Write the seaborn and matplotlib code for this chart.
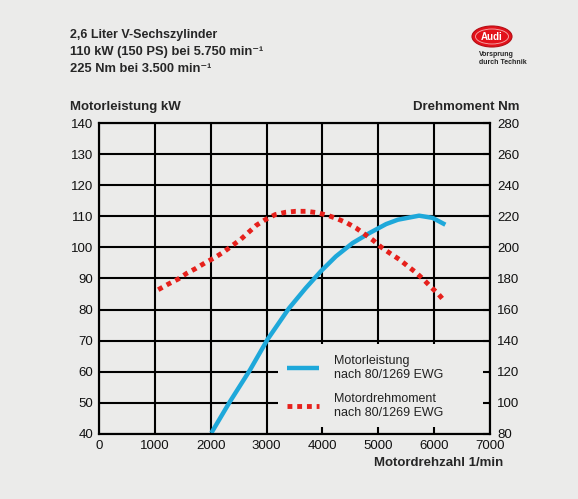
import seaborn as sns
import pandas as pd
import matplotlib.pyplot as plt
from matplotlib.patches import Ellipse, Rectangle

rpm_power = [2010, 2340, 2700, 3020, 3400, 3700, 3970, 4240, 4540, 4840, 5140, 5350,
             5730, 5970, 6200]
power_kw = [40.3, 50.3, 60.5, 70.5, 80.4, 86.9, 92.3, 97.1, 101.4, 104.6, 107.5, 108.9,
            110.2, 109.5, 107.3]

rpm_torque = [1060, 1240, 1415, 1565, 1730, 1905, 2070, 2230, 2390, 2535, 2665, 2815,
              2980, 3155, 3340, 3520, 3710, 3895, 4095, 4260, 4440, 4600, 4910, 5050,
              5210, 5375, 5525, 5675, 5820, 5940, 6075, 6195]
torque_nm = [172.8, 176.4, 179.6, 183.2, 186.4, 190.2, 193.4, 197, 201.3, 205.1, 209.3, 214.2,
             217.9, 221.1, 222.6, 223.2, 223.2, 222.4, 220.6, 218.5, 215.7, 212.5, 204.5, 200.2,
             196.2, 192.3, 188, 183.8, 179, 174.6, 170, 165]

x_ticks = [0, 1000, 2000, 3000, 4000, 5000, 6000, 7000]
kw_ticks = [40, 50, 60, 70, 80, 90, 100, 110, 120, 130, 140]
nm_ticks = [80, 100, 120, 140, 160, 180, 200, 220, 240, 260, 280]

power = pd.DataFrame({'rpm': rpm_power, 'kW': power_kw})
torque = pd.DataFrame({'rpm': rpm_torque, 'Nm': torque_nm})

bg = '#ebebea'
blue = '#1ea8da'
red = '#e6201c'

sns.set_theme(style='white')
plt.rcParams['font.family'] = ['Liberation Sans', 'DejaVu Sans']

fig = plt.figure(figsize=(5.78, 4.99), dpi=100, facecolor=bg)
ax = fig.add_axes([0.1713, 0.1303, 0.6765, 0.6232])
ax.set_facecolor(bg)
ax.set_axisbelow('line')

sns.lineplot(data=power, x='rpm', y='kW', ax=ax, color=blue, lw=3.2,
             label='Motorleistung\nnach 80/1269 EWG', legend=False, zorder=3,
             solid_capstyle='butt')
ax.set_xlim(0, 7000)
ax.set_ylim(40, 140)
ax.set_xticks(x_ticks)
ax.set_yticks(kw_ticks)
ax.grid(True, color='black', lw=1.5)
ax.tick_params(direction='in', length=0, labelsize=9.5, colors='#111111', pad=4)
ax.set_xlabel('')
ax.set_ylabel('')

ax2 = ax.twinx()
# patch behind the legend hides the grid lines there
ax2.add_patch(Rectangle((0.457, 0.022), 0.539, 0.266, transform=ax2.transAxes,
                        facecolor=bg, edgecolor='none', zorder=0.5))
sns.lineplot(data=torque, x='rpm', y='Nm', ax=ax2, color=red, lw=3.5,
             linestyle=(0, (1, 1)), label='Motordrehmoment\nnach 80/1269 EWG',
             legend=False, zorder=3)
ax2.set_ylim(80, 280)
ax2.set_yticks(nm_ticks)
ax2.set_ylabel('')
ax2.tick_params(direction='in', length=5, width=1.5, labelsize=9.5, colors='black',
                labelcolor='#111111', pad=5)

for a in (ax, ax2):
    for s in a.spines.values():
        s.set_color('black')
        s.set_linewidth(1.5)

h1, l1 = ax.get_legend_handles_labels()
h2, l2 = ax2.get_legend_handles_labels()
ax2.legend(h1 + h2, l1 + l2, loc='lower left', bbox_to_anchor=(0.451, 0.012),
           frameon=False, handlelength=2.6, handletextpad=1.2, labelspacing=1.0,
           fontsize=9, labelcolor='#222222')

# titles and axis labels
sup = '\u207b\u00b9'
fig.text(0.121, 0.930, '2,6 Liter V-Sechszylinder', fontsize=9, fontweight='bold', va='center')
fig.text(0.121, 0.896, '110 kW (150 PS) bei 5.750 min' + sup, fontsize=9.3,
         fontweight='bold', va='center')
fig.text(0.121, 0.862, '225 Nm bei 3.500 min' + sup, fontsize=9.3,
         fontweight='bold', va='center')
fig.text(0.121, 0.786, 'Motorleistung kW', fontsize=9.5, fontweight='bold', va='center')
fig.text(0.898, 0.786, 'Drehmoment Nm', fontsize=9.5, fontweight='bold', va='center', ha='right')
fig.text(0.870, 0.072, 'Motordrehzahl 1/min', fontsize=9.5, fontweight='bold', va='center', ha='right')

# logo
fig.patches.append(Ellipse((492 / 578, 1 - 36.5 / 499), 40 / 578, 21 / 499,
                           transform=fig.transFigure, facecolor='#e3121b',
                           edgecolor='#b50d14', lw=0.8))
fig.patches.append(Ellipse((492 / 578, 1 - 36.5 / 499), 33 / 578, 15 / 499,
                           transform=fig.transFigure, facecolor='none',
                           edgecolor='#f6b0b0', lw=0.6))
fig.text(492 / 578, 1 - 36.5 / 499, 'Audi', color='white', fontsize=7, fontweight='bold',
         ha='center', va='center')
fig.text(479 / 578, 1 - 55 / 499, 'Vorsprung', fontsize=5, fontweight='bold', va='center')
fig.text(479 / 578, 1 - 62 / 499, 'durch Technik', fontsize=5, fontweight='bold', va='center')

fig.savefig('out.png', dpi=100, facecolor=bg)
